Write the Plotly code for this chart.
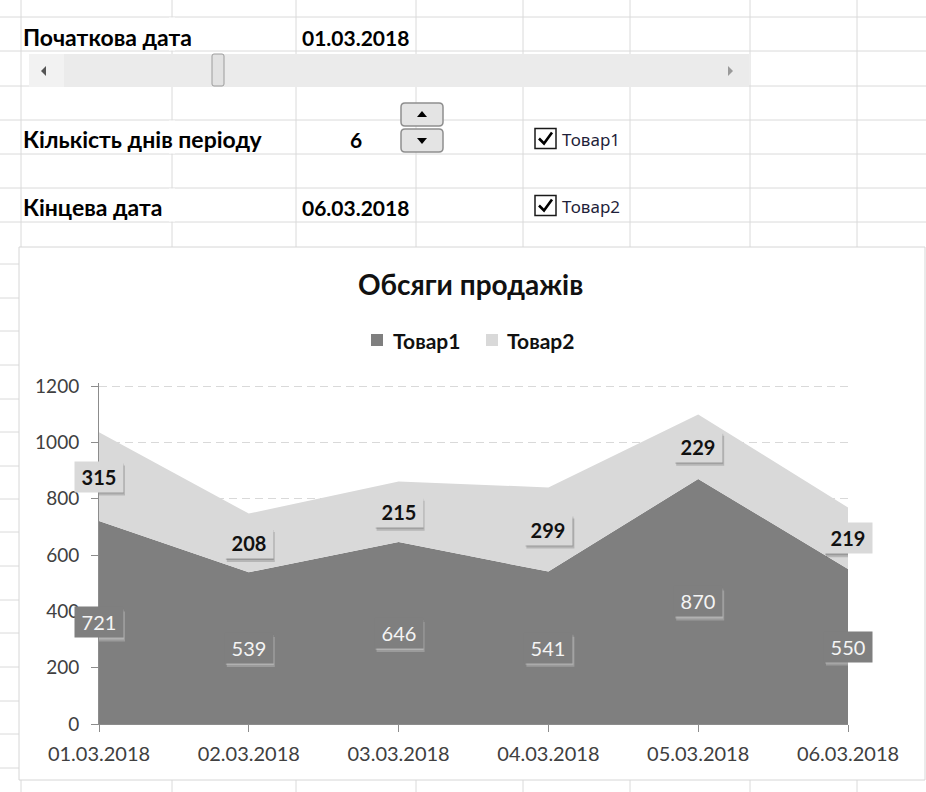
import plotly.graph_objects as go

# ---- data -------------------------------------------------------------
dates = ["01.03.2018", "02.03.2018", "03.03.2018", "04.03.2018", "05.03.2018", "06.03.2018"]
tovar1 = [721, 539, 646, 541, 870, 550]
tovar2 = [315, 208, 215, 299, 229, 219]
series_names = ["Товар1", "Товар2"]
y_ticks = [0, 200, 400, 600, 800, 1000, 1200]

# sheet cells above the chart
start_label, start_value = "Початкова дата", "01.03.2018"
days_label, days_value = "Кількість днів періоду", "6"
end_label, end_value = "Кінцева дата", "06.03.2018"

# ---- styling ------------------------------------------------------------
W, H = 926, 792
FONT = "Lato, 'Noto Sans', sans-serif"
DARK = "#7f7f7f"
LIGHT = "#d9d9d9"
SHEET_LINE = "#dadada"

# plot area in pixels: 0 sits at y=724, 1200 at y=386; a little headroom
# above 1200 keeps its dashed gridline from being clipped at the edge
PLOT_LEFT, PLOT_RIGHT = 99, 848
PLOT_BOTTOM, PLOT_TOP = 724, 383
Y_MAX = 1200 * (PLOT_BOTTOM - PLOT_TOP) / (PLOT_BOTTOM - 386)


def X(x):
    return x / W


def Y(y):
    return 1 - y / H


shapes = []
annotations = []


def line(x0, y0, x1, y1, color=SHEET_LINE, width=1):
    shapes.append(dict(type="line", xref="paper", yref="paper", x0=X(x0), y0=Y(y0),
                       x1=X(x1), y1=Y(y1), line=dict(color=color, width=width), layer="below"))


def rect(x0, y0, x1, y1, fill, color=None, width=0):
    shapes.append(dict(type="rect", xref="paper", yref="paper", x0=X(x0), y0=Y(y0),
                       x1=X(x1), y1=Y(y1), fillcolor=fill,
                       line=dict(color=color or fill, width=width), layer="below"))


def path(points, fill=None, color=None, width=0, closed=True):
    d = "M " + " L ".join(f"{X(px)},{Y(py)}" for px, py in points) + (" Z" if closed else "")
    shapes.append(dict(type="path", xref="paper", yref="paper", path=d,
                       fillcolor=fill if fill else "rgba(0,0,0,0)",
                       line=dict(color=color or "rgba(0,0,0,0)", width=width), layer="below"))


def rrect(x0, y0, x1, y1, r, fill, color, width=1):
    d = (f"M {X(x0 + r)},{Y(y0)} L {X(x1 - r)},{Y(y0)} Q {X(x1)},{Y(y0)} {X(x1)},{Y(y0 + r)} "
         f"L {X(x1)},{Y(y1 - r)} Q {X(x1)},{Y(y1)} {X(x1 - r)},{Y(y1)} "
         f"L {X(x0 + r)},{Y(y1)} Q {X(x0)},{Y(y1)} {X(x0)},{Y(y1 - r)} "
         f"L {X(x0)},{Y(y0 + r)} Q {X(x0)},{Y(y0)} {X(x0 + r)},{Y(y0)} Z")
    shapes.append(dict(type="path", xref="paper", yref="paper", path=d, fillcolor=fill,
                       line=dict(color=color, width=width), layer="below"))


def text(x, y, s, size=21, bold=True, color="#000000", anchor="left", family=FONT):
    annotations.append(dict(xref="paper", yref="paper", x=X(x), y=Y(y), text=s, showarrow=False,
                            xanchor=anchor, yanchor="middle",
                            font=dict(family=family, size=size, color=color,
                                      weight="bold" if bold else "normal")))


# ---- worksheet grid -----------------------------------------------------------
row_lines = [17, 51, 86, 120, 154, 188, 222]
side_rows = [264, 298, 331, 365, 399, 432, 466, 499, 532, 566, 600, 633, 667, 701, 734, 768]
col_lines = [21, 172, 296, 416, 523, 630, 750, 857]

for y in row_lines:
    line(0, y, W, y)
for y in side_rows:
    line(0, y, 19, y)
for x in col_lines:
    line(x, 0, x, H)

# text overflowing into the next column hides its border
for y0, y1 in [(17.5, 50.5), (120.5, 153.5), (188.5, 221.5)]:
    rect(169, y0, 175, y1, "#ffffff")

# scroll bar
rect(29, 54, 749, 87, "#ebebeb")
rect(29, 54, 64, 87, "#f2f2f2")
path([(46, 66), (46, 76), (41, 71)], fill="#555555")
path([(728, 66), (728, 76), (733, 71)], fill="#9a9a9a")
rrect(212, 54, 224, 86, 2, "#e2e2e2", "#9c9c9c")

# spinner
rrect(401, 103, 443, 126, 4, "#e4e4e4", "#8e8e8e", 1.5)
rrect(401, 129, 443, 152, 4, "#e4e4e4", "#8e8e8e", 1.5)
path([(417, 117), (427, 117), (422, 111)], fill="#000000")
path([(417, 138), (427, 138), (422, 144)], fill="#000000")

# check boxes
for cy, name in [(138.5, series_names[0]), (205.5, series_names[1])]:
    rect(535, cy - 10, 556, cy + 10, "#ffffff", "#1a1a1a", 1.5)
    path([(539, cy), (544, cy + 5), (552, cy - 6)], color="#000000", width=2.6, closed=False)
    text(560, cy + 1, name, size=17, bold=False, color="#1f1f3a", family="'Noto Sans', sans-serif")

# sheet texts
text(21, 37, start_label, size=23)
text(300, 37, start_value)
text(21, 139, days_label, size=23)
text(356, 139, days_value, anchor="center")
text(21, 207, end_label, size=23)
text(300, 207, end_value)

# chart box
rect(19, 247, 925, 780, "#ffffff", "#d6d6d6", 1)

# chart title and legend
text(470, 284, "Обсяги продажів", size=28, color="#111111", anchor="center")
for sx, tx, col, name in [(371, 391, DARK, series_names[0]), (486, 505, LIGHT, series_names[1])]:
    rect(sx, 334, sx + 12, 346, col)
    text(tx, 340, name, size=21, color="#111111")

# ---- traces ----------------------------------------------------------------------
fig = go.Figure()
fig.add_trace(go.Scatter(x=dates, y=tovar1, name=series_names[0], stackgroup="one",
                         mode="lines", line=dict(width=0, color=DARK), fillcolor=DARK))
fig.add_trace(go.Scatter(x=dates, y=tovar2, name=series_names[1], stackgroup="one",
                         mode="lines", line=dict(width=0, color=LIGHT), fillcolor=LIGHT))

# data labels in the middle of each band, each with a soft drop shadow
BOX_W, BOX_H = 48, 30
for d, v1, v2 in zip(dates, tovar1, tovar2):
    mid1 = v1 / 2
    mid2 = v1 + v2 / 2
    for val, mid, bg, fcol, bold, shadow in [
        (v1, mid1, DARK, "#f4f4f4", False, "rgba(255,255,255,0.22)"),
        (v2, mid2, LIGHT, "#111111", True, "rgba(0,0,0,0.16)"),
    ]:
        for dx, dy in [(1, 2), (2, 4)]:
            shapes.append(dict(type="rect", xref="x", yref="y",
                               xsizemode="pixel", ysizemode="pixel",
                               xanchor=d, yanchor=mid,
                               x0=-BOX_W / 2 + dx, x1=BOX_W / 2 + dx,
                               y0=-BOX_H / 2 - dy, y1=BOX_H / 2 - dy,
                               fillcolor=shadow, line=dict(width=0), layer="above"))
        annotations.append(dict(x=d, y=mid, xref="x", yref="y", text=str(val), showarrow=False,
                                width=BOX_W - 4, height=BOX_H - 4, borderpad=2, bgcolor=bg,
                                font=dict(family=FONT, size=20, color=fcol,
                                          weight="bold" if bold else "normal")))

fig.update_layout(
    width=W, height=H,
    margin=dict(l=0, r=0, t=0, b=0, pad=0),
    paper_bgcolor="#ffffff",
    plot_bgcolor="rgba(0,0,0,0)",
    showlegend=False,
    shapes=shapes,
    annotations=annotations,
    xaxis=dict(domain=[X(PLOT_LEFT), X(PLOT_RIGHT)], type="category", range=[0, 5],
               automargin=False,
               showline=True, linecolor="#8c8c8c", linewidth=1,
               ticks="outside", ticklen=7, tickcolor="#8c8c8c",
               showgrid=False, ticklabelstandoff=5,
               tickfont=dict(family=FONT, size=20, color="#404040")),
    yaxis=dict(domain=[Y(PLOT_BOTTOM), Y(PLOT_TOP)], range=[0, Y_MAX], tickvals=y_ticks,
               automargin=False,
               showline=True, linecolor="#8c8c8c", linewidth=1,
               ticks="outside", ticklen=7, tickcolor="#8c8c8c",
               showgrid=True, gridcolor=LIGHT, gridwidth=1, griddash="8px,5px",
               zeroline=False, ticklabelstandoff=8,
               tickfont=dict(family=FONT, size=19, color="#404040")),
)

fig.write_html("out.html")
